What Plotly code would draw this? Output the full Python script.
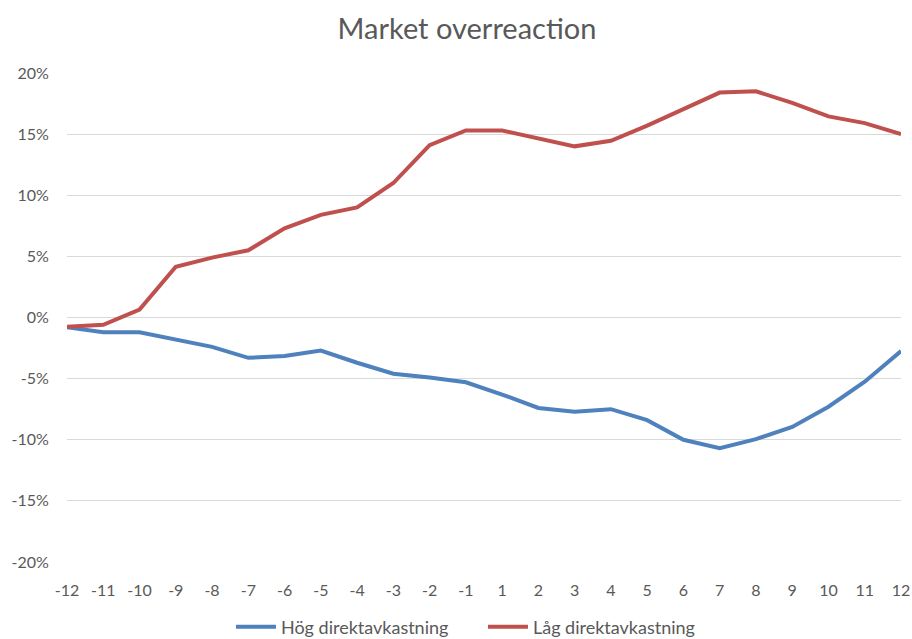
import plotly.graph_objects as go

categories = ["-12", "-11", "-10", "-9", "-8", "-7", "-6", "-5", "-4", "-3", "-2", "-1",
              "1", "2", "3", "4", "5", "6", "7", "8", "9", "10", "11", "12"]

hog = [-0.8, -1.2, -1.2, -1.8, -2.4, -3.3, -3.15, -2.7, -3.7, -4.6, -4.9, -5.3,
       -6.3, -7.4, -7.7, -7.5, -8.4, -10.0, -10.7, -9.95, -8.95, -7.3, -5.25, -2.75]

lag = [-0.75, -0.6, 0.65, 4.15, 4.9, 5.5, 7.3, 8.4, 9.0, 11.0, 14.1, 15.3,
       15.3, 14.65, 14.0, 14.45, 15.7, 17.05, 18.4, 18.5, 17.55, 16.45, 15.9, 15.0]

y_tick_values = [-20, -15, -10, -5, 0, 5, 10, 15, 20]
y_tick_labels = ["-20%", "-15%", "-10%", "-5%", "0%", "5%", "10%", "15%", "20%"]

series_names = ["Hög direktavkastning", "Låg direktavkastning"]
colors = ["#4F81BD", "#C0504D"]

fig = go.Figure()
fig.add_trace(go.Scatter(x=categories, y=hog, mode="lines", name=series_names[0],
                         line=dict(color=colors[0], width=4)))
fig.add_trace(go.Scatter(x=categories, y=lag, mode="lines", name=series_names[1],
                         line=dict(color=colors[1], width=4)))

font_family = "Lato, 'Open Sans', sans-serif"
fig.update_layout(
    width=912, height=639,
    margin=dict(l=67, r=11, t=73, b=77, autoexpand=False),
    paper_bgcolor="white", plot_bgcolor="white",
    font=dict(family=font_family, color="#595959", size=16),
    title=dict(text="Market overreaction", x=467 / 912, xanchor="center",
               y=1 - 29 / 639, yanchor="middle",
               font=dict(size=29, color="#595959", family=font_family)),
    showlegend=True,
    legend=dict(orientation="h", x=0.1966, xanchor="left", y=-0.133, yanchor="middle",
                font=dict(size=18, color="#595959"), itemwidth=40,
                entrywidth=197, entrywidthmode="pixels"),
)
fig.update_xaxes(type="category", range=[0, 23], showgrid=False, zeroline=False,
                 showline=False, ticks="outside", ticklen=14, tickcolor="rgba(0,0,0,0)",
                 automargin=False, tickfont=dict(size=16, color="#595959"))
fig.update_yaxes(range=[-20, 20], tickvals=y_tick_values, ticktext=y_tick_labels,
                 showgrid=True, gridcolor="#D9D9D9", gridwidth=1, zeroline=False,
                 showline=False, ticks="outside", ticklen=14, tickcolor="rgba(0,0,0,0)",
                 automargin=False, tickfont=dict(size=16, color="#595959"))

fig.write_html("out.html", config={"displayModeBar": False},
               post_script="document.body.style.margin='0';document.body.style.overflow='hidden';")
